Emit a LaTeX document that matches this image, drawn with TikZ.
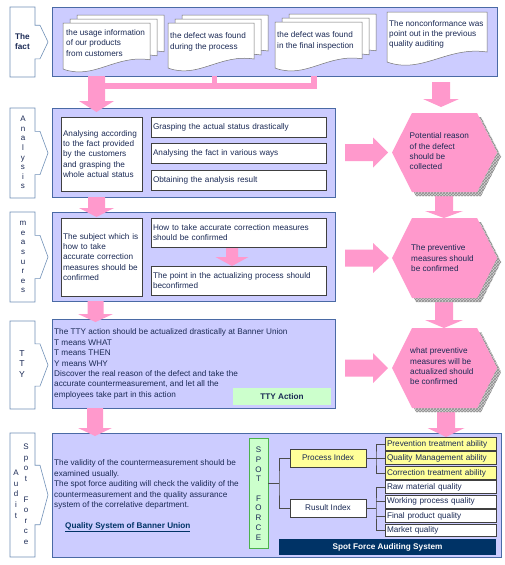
\documentclass[tikz,border=0pt]{standalone}
\usepackage{fontspec}
\setmainfont{Liberation Sans}
\usetikzlibrary{patterns}
\definecolor{panelfill}{HTML}{CCCCFF}
\definecolor{panelline}{HTML}{4A6AA5}
\definecolor{labline}{HTML}{7090B8}
\definecolor{pinkc}{HTML}{FF99CC}
\definecolor{tc}{HTML}{1B2A55}
\definecolor{greenc}{HTML}{CCFFCC}
\definecolor{yellowc}{HTML}{FFFF99}
\definecolor{navyc}{HTML}{003366}
\newcommand\firststrut{\rule{0pt}{6pt}}
\newcommand\pinkdown[6]{\fill[pinkc] ({#1-#5},#2) -- ({#1+#5},#2) -- ({#1+#5},#3) -- ({#1+#6},#3) -- (#1,#4) -- ({#1-#6},#3) -- ({#1-#5},#3) -- cycle;}
\newcommand\pinkright[6]{\fill[pinkc] (#1,{#4-#5}) -- (#2,{#4-#5}) -- (#2,{#4-#6}) -- (#3,#4) -- (#2,{#4+#6}) -- (#2,{#4+#5}) -- (#1,{#4+#5}) -- cycle;}
\newcommand\labshape[4]{%
  \pgfmathsetmacro\lbm{(#3+#4)/2}\pgfmathsetmacro\lbd{0.24*(#4-#3)}%
  \draw[labline, fill=white, line width=0.6pt] (#2,#3) -- (#1,#3) -- (#1,#4) -- (#2,#4) -- (#2,{\lbm+\lbd}) -- ({#2+5},{\lbm+\lbd}) -- ({#2+13},\lbm) -- ({#2+5},{\lbm-\lbd}) -- (#2,{\lbm-\lbd}) -- cycle;}
\newcommand\docpage[4]{\draw[black!55, fill=white, line width=0.5pt] (#1,#2) -- ({#1+#3},#2) -- ({#1+#3},{#2+0.8*#4}) .. controls ({#1+0.6*#3},{#2+0.68*#4}) and ({#1+0.35*#3},{#2+1.25*#4}) .. (#1,{#2+#4}) -- cycle;}
\newcommand\hexa[2]{%
  \pgfmathsetmacro\hm{(#1+#2)/2}%
  \fill[gray!35] (416,{#1+4}) -- (481,{#1+4}) -- (501,{\hm+4}) -- (481,{#2+4}) -- (416,{#2+4}) -- (396,{\hm+4}) -- cycle;
  \fill[pattern=crosshatch, pattern color=gray!90] (416,{#1+4}) -- (481,{#1+4}) -- (501,{\hm+4}) -- (481,{#2+4}) -- (416,{#2+4}) -- (396,{\hm+4}) -- cycle;
  \fill[pinkc] (412,#1) -- (477,#1) -- (497,\hm) -- (477,#2) -- (412,#2) -- (392,\hm) -- cycle;}
\tikzset{
  panel/.style={draw=panelline, fill=panelfill, line width=0.7pt, inner sep=0pt},
  wbox/.style={draw=black!75, fill=white, line width=0.6pt, inner sep=0pt},
  ybox/.style={draw=black!75, fill=yellowc, line width=0.6pt, inner sep=0pt},
  t8/.style={font=\fontsize{8.2}{10.4}\selectfont, text=tc},
  blk/.style={t8, align=left, anchor=north west, inner sep=0pt},
  lbox/.style={wbox, t8, align=left, inner xsep=2pt, inner ysep=0pt, text width=#1},
  tree/.style={draw=black!70, line width=0.6pt},
  vlet/.style={font=\fontsize{8}{#1}\selectfont, text=tc, align=center, anchor=north, inner sep=0pt}
}
\begin{document}
\begin{tikzpicture}[x=1pt, y=-1pt]
\useasboundingbox[fill=white] (0,0) rectangle (504,565);
% panels
\node[panel, minimum width=445pt, minimum height=69pt] (p1) at (274.5,41.5) {};
\node[panel, minimum width=283pt, minimum height=89pt] (p2) at (193.5,152.5) {};
\node[panel, minimum width=283pt, minimum height=89pt] (p3) at (193.5,256.5) {};
\node[panel, minimum width=283pt, minimum height=89pt] (p4) at (193.5,363.5) {};
\node[panel, minimum width=449pt, minimum height=124pt] (p5) at (276.5,495) {};
% left label shapes
\labshape{10}{35}{7}{77}
\labshape{10}{35}{108}{198}
\labshape{10}{35}{212}{302}
\labshape{10}{35}{321}{409}
\labshape{10}{35}{433}{557}
\node[font=\bfseries\fontsize{8.2}{10}\selectfont, text=tc, align=center, inner sep=0pt] (lfact) at (22.5,42) {The\\fact};
\node[vlet=9.6] (lana) at (23,115.5) {\firststrut A\\n\\a\\l\\y\\s\\i\\s};
\node[vlet=9.6] (lmea) at (23,219.5) {\firststrut m\\e\\a\\s\\u\\r\\e\\s};
\node[font=\fontsize{8.6}{10.5}\selectfont, text=tc, align=center, anchor=north, inner sep=0pt] (ltty) at (22,350) {\firststrut T\\T\\Y};
\node[vlet=10.6] (laud) at (16,469.5) {\firststrut A\\u\\d\\i\\t};
\node[vlet=10.5] (lspot) at (26,443.5) {\firststrut S\\p\\o\\t\\\mbox{}\\F\\o\\r\\c\\e};
% pink connectors (left column)
\fill[pinkc] (105,83) rectangle (317,89);
\fill[pinkc] (212,76) rectangle (217,83);
\fill[pinkc] (311,76) rectangle (317,83);
\pinkdown{96.5}{76}{101}{112}{8.5}{17.5}
\pinkdown{96.5}{197}{208}{217}{8.5}{17.5}
\pinkdown{95.5}{301}{314}{322}{8}{17.5}
\pinkdown{95}{408}{428}{436}{8}{17}
% right column
\pinkdown{441}{82}{99}{107}{9}{18}
\pinkdown{444}{192}{211}{218}{9}{19}
\pinkdown{444}{298}{320}{328}{9}{19}
\pinkdown{446}{408}{428}{437}{9}{18.5}
\pinkright{345}{373}{388}{152.5}{8.5}{15}
\pinkright{345}{373}{389}{258}{8.5}{15}
\pinkright{345}{373}{388}{368}{8.5}{15}
\hexa{113}{192}
\hexa{218}{298}
\hexa{328}{408}
\node[blk] (h1) at (409.5,132.5) {\firststrut Potential reason\\of the defect\\should be\\collected};
\node[blk] (h2) at (411,244.5) {\firststrut The preventive\\measures should\\be confirmed};
\node[blk] (h3) at (410,347.5) {\firststrut what preventive\\measures will be\\actualized should\\be confirmed};
% documents
\docpage{77}{15}{87}{46}\docpage{70}{19}{87}{46}\docpage{63}{23}{87}{46}
\docpage{182}{15}{86}{45}\docpage{175}{19}{86}{45}\docpage{168}{23}{86}{45}
\docpage{289}{14}{87}{46}\docpage{282}{18}{87}{46}\docpage{275}{22}{87}{46}
\docpage{387}{12}{100}{50}
\node[blk, font=\fontsize{8.2}{10.2}\selectfont] (d1) at (66,29.5) {\firststrut the usage information\\of our products\\from customers};
\node[blk, font=\fontsize{8.2}{10.8}\selectfont] (d2) at (170,32.5) {\firststrut the defect was found\\during the process};
\node[blk, font=\fontsize{8.2}{10.8}\selectfont] (d3) at (277,31.5) {\firststrut the defect was found\\in the final inspection};
\node[blk, font=\fontsize{8.2}{10}\selectfont] (d4) at (389,20.5) {\firststrut The nonconformance was\\point out in the previous\\quality auditing};
% analysis panel
\node[lbox=77pt, minimum height=74pt] (a0) at (101.5,154) {Analysing according\\to the fact provided\\by the customers\\and grasping the\\whole actual status};
\node[lbox=171pt, minimum height=20pt] (a1) at (238.5,127) {Grasping the actual status drastically};
\node[lbox=171pt, minimum height=20pt] (a2) at (238.5,153) {Analysing the fact in various ways};
\node[lbox=171pt, minimum height=20pt] (a3) at (238.5,180) {Obtaining the analysis result};
% measures panel
\node[lbox=77pt, minimum height=78pt] (m0) at (101.5,257) {The subject which is\\how to take\\accurate correction\\measures should be\\confirmed};
\node[lbox=171pt, minimum height=29pt] (m1) at (238.5,232.5) {How to take accurate correction measures\\should be confirmed};
\node[lbox=171pt, minimum height=29pt] (m2) at (238.5,280.5) {The point in the actualizing process should\\beconfirmed};
\pinkdown{232}{248}{257}{266}{6}{16.5}
% TTY panel
\node[blk, font=\fontsize{8.2}{10.45}\selectfont] (tt) at (54,328.5) {\firststrut The TTY action should be actualized drastically at Banner Union\\T means WHAT\\T means THEN\\Y means WHY\\Discover the real reason of the defect and take the\\accurate countermeasurement, and let all the\\employees take part in this action};
\node[fill=greenc, minimum width=98pt, minimum height=17pt, inner sep=0pt, font=\bfseries\fontsize{8.2}{10}\selectfont, text=tc] (tta) at (282,396.5) {TTY Action};
% audit panel
\node[blk, font=\fontsize{8.2}{10.45}\selectfont] (au) at (54,459.5) {\firststrut The validity of the countermeasurement should be\\examined usually.\\The spot force auditing will check the validity of the\\countermeasurement and the quality assurance\\system of the correlative department.};
\node[anchor=west, inner sep=0pt, font=\bfseries\fontsize{8.2}{10}\selectfont, text=navyc] (qs) at (65,527) {\underline{Quality System of Banner Union}};
\node[draw=green!40!gray, fill=greenc, line width=0.6pt, minimum width=19pt, minimum height=110pt, inner sep=0pt] (spot) at (258.5,493) {};
\node[vlet=9.7] (spott) at (258.5,446.5) {\firststrut S\\P\\O\\T\\\mbox{}\\F\\O\\R\\C\\E};
\node[ybox, t8, minimum width=76pt, minimum height=18pt] (pi) at (328,458) {Process Index};
\node[wbox, t8, minimum width=76pt, minimum height=18pt] (ri) at (328,508) {Rusult Index};
\node[ybox, t8, minimum width=111pt, minimum height=12.5pt, align=left, text width=107pt, inner xsep=2pt] (pt) at (440.5,444) {Prevention treatment ability};
\node[ybox, t8, minimum width=111pt, minimum height=12.5pt, align=left, text width=107pt, inner xsep=2pt] (qm) at (440.5,458) {Quality Management ability};
\node[ybox, t8, minimum width=111pt, minimum height=12.5pt, align=left, text width=107pt, inner xsep=2pt] (ct) at (440.5,473) {Correction treatment ability};
\node[wbox, t8, minimum width=111pt, minimum height=12.5pt, align=left, text width=107pt, inner xsep=2pt] (rm) at (440.5,487) {Raw material quality};
\node[wbox, t8, minimum width=111pt, minimum height=12.5pt, align=left, text width=107pt, inner xsep=2pt] (wp) at (440.5,501.7) {Working process quality};
\node[wbox, t8, minimum width=111pt, minimum height=12.5pt, align=left, text width=107pt, inner xsep=2pt] (fp) at (440.5,516) {Final product quality};
\node[wbox, t8, minimum width=111pt, minimum height=12.5pt, align=left, text width=107pt, inner xsep=2pt] (mq) at (440.5,530.3) {Market quality};
\node[fill=navyc, minimum width=217pt, minimum height=16pt, inner sep=0pt, font=\bfseries\fontsize{8.2}{10}\selectfont, text=white] (sfa) at (387.5,547) {Spot Force Auditing System};
% tree
\coordinate (tj) at (279,483);
\coordinate (pj) at (376,458);
\coordinate (rj) at (376,508);
\draw[tree] (tj) -- (tj -| spot.east);
\draw[tree] (pi.west) -| (tj) |- (ri.west);
\draw[tree] (pi.east) -- (qm.west);
\draw[tree] (pt.west) -| (pj) |- (ct.west);
\draw[tree] (ri.east) -- (rj);
\draw[tree] (rm.west) -| (rj) |- (mq.west);
\draw[tree] (wp.west) -- (wp.west -| rj);
\draw[tree] (fp.west) -- (fp.west -| rj);
\end{tikzpicture}
\end{document}
